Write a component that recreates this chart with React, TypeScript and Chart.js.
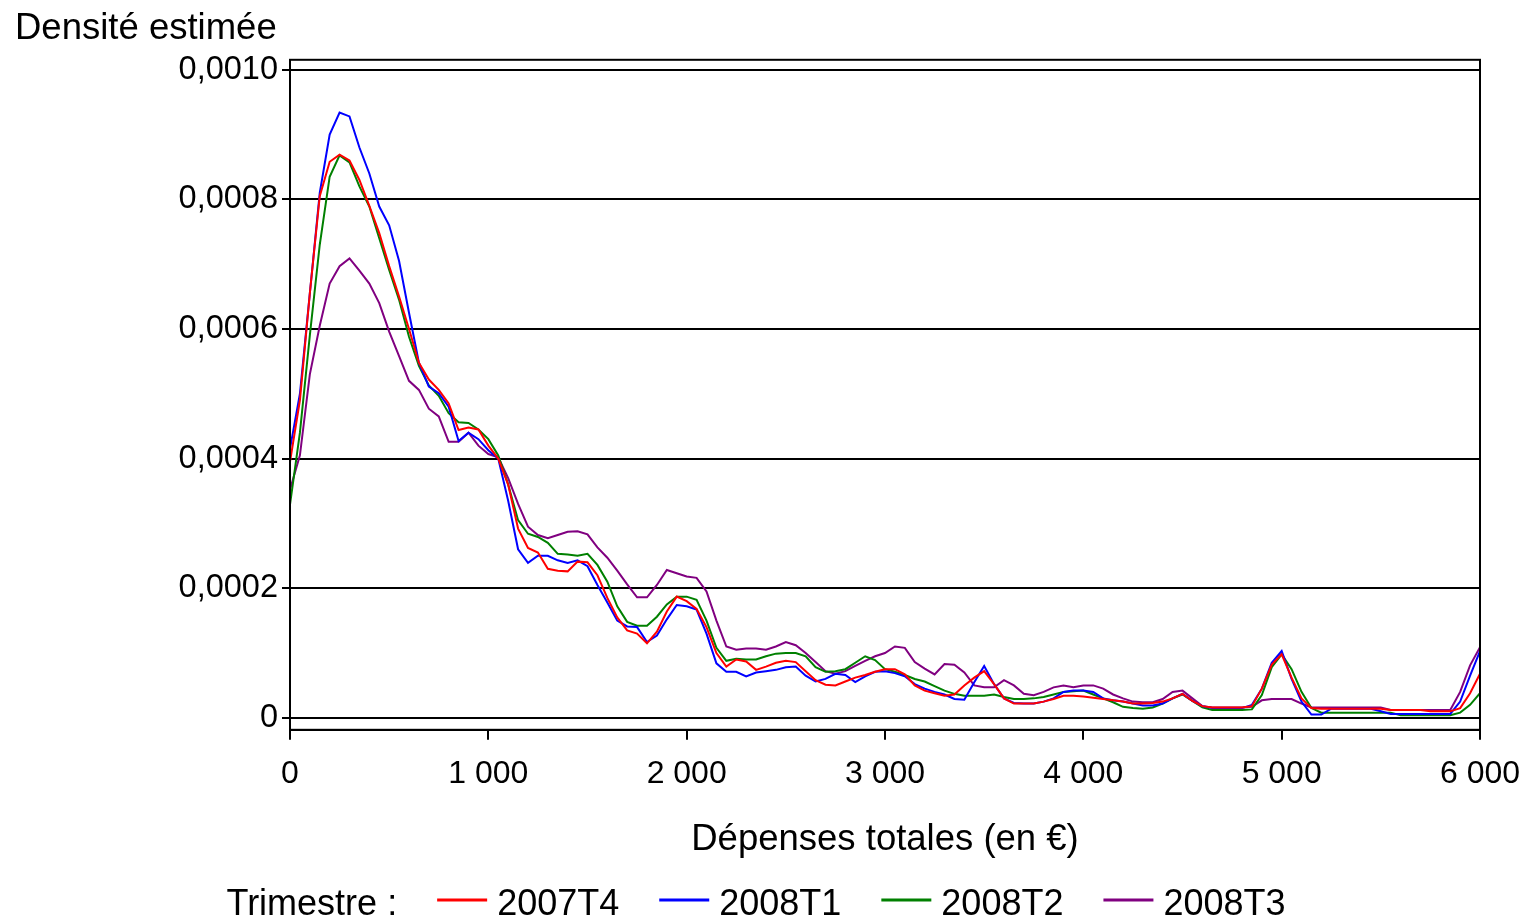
import React, { useEffect, useRef } from "react";
import { Chart, registerables } from "chart.js";

Chart.register(...registerables);

// Dépenses totales (en €), one reading every 50 €
const xValues = [
  0, 50, 100, 150, 200, 250, 300, 350, 400, 450,
  500, 550, 600, 650, 700, 750, 800, 850, 900, 950,
  1000, 1050, 1100, 1150, 1200, 1250, 1300, 1350, 1400, 1450,
  1500, 1550, 1600, 1650, 1700, 1750, 1800, 1850, 1900, 1950,
  2000, 2050, 2100, 2150, 2200, 2250, 2300, 2350, 2400, 2450,
  2500, 2550, 2600, 2650, 2700, 2750, 2800, 2850, 2900, 2950,
  3000, 3050, 3100, 3150, 3200, 3250, 3300, 3350, 3400, 3450,
  3500, 3550, 3600, 3650, 3700, 3750, 3800, 3850, 3900, 3950,
  4000, 4050, 4100, 4150, 4200, 4250, 4300, 4350, 4400, 4450,
  4500, 4550, 4600, 4650, 4700, 4750, 4800, 4850, 4900, 4950,
  5000, 5050, 5100, 5150, 5200, 5250, 5300, 5350, 5400, 5450,
  5500, 5550, 5600, 5650, 5700, 5750, 5800, 5850, 5900, 5950,
  6000,
];

// Estimated densities, in units of 0,0001
const density2007T4 = [
  3.95, 4.9, 6.55, 8.05, 8.58, 8.69, 8.6, 8.3, 7.9, 7.48,
  6.97, 6.5, 6.0, 5.48, 5.22, 5.06, 4.85, 4.44, 4.48, 4.45,
  4.2, 4.0, 3.6, 2.92, 2.62, 2.55, 2.3, 2.27, 2.26, 2.41,
  2.4, 2.2, 1.85, 1.55, 1.35, 1.3, 1.15, 1.33, 1.64, 1.87,
  1.8, 1.68, 1.4, 1.0, 0.79, 0.9, 0.87, 0.74, 0.79, 0.85,
  0.88, 0.86, 0.72, 0.58, 0.51, 0.5, 0.56, 0.62, 0.66, 0.71,
  0.75, 0.75, 0.67, 0.5, 0.42, 0.38, 0.34, 0.36, 0.5, 0.62,
  0.72, 0.52, 0.3, 0.22, 0.22, 0.22, 0.25, 0.29, 0.34, 0.34,
  0.33, 0.31, 0.29, 0.27, 0.25, 0.22, 0.22, 0.23, 0.25, 0.3,
  0.37, 0.26, 0.18, 0.16, 0.16, 0.16, 0.16, 0.18, 0.45, 0.82,
  0.98, 0.62, 0.3, 0.15, 0.14, 0.14, 0.14, 0.14, 0.14, 0.14,
  0.14, 0.12, 0.12, 0.12, 0.12, 0.1, 0.1, 0.1, 0.15, 0.38,
  0.68,
];

const density2008T1 = [
  4.15, 5.0, 6.55, 8.1, 9.0, 9.34, 9.28, 8.8, 8.4, 7.89,
  7.6, 7.05, 6.25, 5.48, 5.11, 5.01, 4.8, 4.27, 4.4, 4.3,
  4.13, 4.0, 3.35, 2.6, 2.39, 2.5, 2.5, 2.43, 2.39, 2.43,
  2.34, 2.05, 1.78, 1.5, 1.41, 1.4, 1.17, 1.27, 1.52, 1.74,
  1.72, 1.67, 1.3, 0.84, 0.71, 0.71, 0.64, 0.7, 0.72, 0.74,
  0.78, 0.79, 0.65, 0.56, 0.6, 0.68, 0.66, 0.55, 0.64, 0.71,
  0.72, 0.69, 0.64, 0.52, 0.45, 0.4, 0.36, 0.29, 0.28, 0.55,
  0.8, 0.52, 0.3, 0.23, 0.22, 0.22, 0.25, 0.3, 0.4, 0.42,
  0.42, 0.4, 0.3, 0.27, 0.25, 0.22, 0.19, 0.19, 0.22, 0.3,
  0.37, 0.26, 0.18, 0.15, 0.15, 0.15, 0.15, 0.2, 0.45, 0.85,
  1.03, 0.6, 0.25, 0.05, 0.05, 0.14, 0.14, 0.14, 0.14, 0.14,
  0.1, 0.06, 0.06, 0.06, 0.06, 0.06, 0.06, 0.06, 0.25, 0.65,
  1.03,
];

const density2008T2 = [
  3.29, 4.4, 5.9, 7.3, 8.35, 8.68, 8.57, 8.2, 7.89, 7.4,
  6.91, 6.45, 5.88, 5.43, 5.13, 4.97, 4.7, 4.56, 4.55, 4.45,
  4.3, 4.05, 3.6, 3.05, 2.84, 2.79, 2.7, 2.53, 2.52, 2.5,
  2.53, 2.36, 2.1, 1.72, 1.48, 1.42, 1.42, 1.56, 1.75, 1.87,
  1.87, 1.82, 1.5, 1.08, 0.88, 0.91, 0.9, 0.9, 0.95, 0.99,
  1.0, 1.0, 0.95, 0.78, 0.71, 0.72, 0.75, 0.85, 0.95, 0.89,
  0.75, 0.71, 0.66, 0.6, 0.56, 0.49, 0.42, 0.37, 0.34, 0.34,
  0.34, 0.36, 0.32, 0.29, 0.29, 0.3, 0.32, 0.36, 0.4, 0.41,
  0.42, 0.36, 0.3, 0.24, 0.17, 0.15, 0.14, 0.16, 0.22, 0.3,
  0.36, 0.26, 0.16, 0.12, 0.12, 0.12, 0.12, 0.13, 0.35, 0.78,
  0.98, 0.75, 0.4, 0.15, 0.08, 0.08, 0.08, 0.08, 0.08, 0.08,
  0.08, 0.08, 0.04, 0.04, 0.04, 0.04, 0.04, 0.04, 0.08, 0.2,
  0.38,
];

const density2008T3 = [
  3.52, 4.05, 5.3, 6.05, 6.7, 6.97, 7.09, 6.9, 6.7, 6.4,
  5.96, 5.58, 5.2, 5.06, 4.77, 4.65, 4.26, 4.26, 4.4, 4.2,
  4.07, 4.02, 3.7, 3.3, 2.95, 2.82, 2.77, 2.82, 2.87, 2.88,
  2.83, 2.63, 2.47, 2.27, 2.06, 1.86, 1.86, 2.05, 2.28, 2.23,
  2.18, 2.16, 1.95, 1.5, 1.1, 1.05, 1.07, 1.07, 1.05, 1.1,
  1.17, 1.12, 1.0, 0.86, 0.72, 0.68, 0.72, 0.8, 0.88, 0.95,
  1.0, 1.1, 1.08, 0.86, 0.76, 0.67, 0.83, 0.82, 0.7, 0.5,
  0.47, 0.47, 0.58, 0.5, 0.37, 0.35, 0.4, 0.47, 0.5, 0.47,
  0.5, 0.5, 0.45, 0.36, 0.3, 0.25, 0.24, 0.24, 0.29, 0.4,
  0.42, 0.3, 0.18, 0.16, 0.16, 0.16, 0.16, 0.17, 0.27, 0.29,
  0.29, 0.29, 0.22, 0.16, 0.16, 0.16, 0.16, 0.16, 0.16, 0.16,
  0.16, 0.12, 0.12, 0.12, 0.12, 0.12, 0.12, 0.12, 0.4, 0.81,
  1.09,
];

const DENSITY_UNIT = 0.0001;

const seriesLabels = ["2007T4", "2008T1", "2008T2", "2008T3"];
const seriesValues = [density2007T4, density2008T1, density2008T2, density2008T3];
const seriesColors = ["#ff0000", "#0000ff", "#008000", "#800080"];

const xTickValues = [0, 1000, 2000, 3000, 4000, 5000, 6000];
const xTickLabels = ["0", "1 000", "2 000", "3 000", "4 000", "5 000", "6 000"];
const yTickValues = [0, 0.0002, 0.0004, 0.0006, 0.0008, 0.001];
const yTickLabels = ["0", "0,0002", "0,0004", "0,0006", "0,0008", "0,0010"];

const yAxisTitle = "Densité estimée";
const xAxisTitle = "Dépenses totales (en €)";
const legendTitle = "Trimestre :";

const FONT = '"Liberation Sans", Arial, sans-serif';

const framePlugin = {
  id: "frame",
  afterDatasetsDraw(chart: any) {
    const { ctx, chartArea } = chart;
    ctx.save();
    ctx.strokeStyle = "#000";
    ctx.lineWidth = 2;
    ctx.strokeRect(chartArea.left, chartArea.top, chartArea.right - chartArea.left, chartArea.bottom - chartArea.top);
    ctx.restore();
  },
};

const rowLegendPlugin = {
  id: "rowLegend",
  afterDraw(chart: any) {
    const ctx = chart.ctx;
    ctx.save();
    ctx.font = `36px ${FONT}`;
    ctx.fillStyle = "#000";
    ctx.textBaseline = "middle";
    ctx.textAlign = "left";
    const gapBefore = 40;
    const lineW = 50;
    const gapText = 10;
    const titleW = ctx.measureText(legendTitle).width;
    const items = chart.data.datasets.map((d: any) => ({
      label: d.label,
      color: d.borderColor,
      w: ctx.measureText(d.label).width,
    }));
    const total = titleW + items.reduce((a: number, it: any) => a + gapBefore + lineW + gapText + it.w, 0);
    let x = (chart.width - total) / 2 - 5;
    const yText = chart.height - 15;
    const yLine = chart.height - 20;
    ctx.fillText(legendTitle, x, yText);
    x += titleW;
    for (const it of items) {
      x += gapBefore;
      ctx.strokeStyle = it.color;
      ctx.lineWidth = 3;
      ctx.beginPath();
      ctx.moveTo(x, yLine);
      ctx.lineTo(x + lineW, yLine);
      ctx.stroke();
      x += lineW + gapText;
      ctx.fillText(it.label, x, yText);
      x += it.w;
    }
    ctx.restore();
  },
};

export default function App() {
  const canvasRef = useRef<HTMLCanvasElement | null>(null);

  useEffect(() => {
    document.body.style.margin = "0";
    const canvas = canvasRef.current;
    if (!canvas) return;

    const datasets = seriesLabels.map((label, s) => ({
      label,
      data: xValues.map((x, i) => ({ x, y: seriesValues[s][i] * DENSITY_UNIT })),
      borderColor: seriesColors[s],
      backgroundColor: seriesColors[s],
      borderWidth: 2,
      pointRadius: 0,
      tension: 0,
      fill: false,
    }));

    const chart = new Chart(canvas, {
      type: "line",
      data: { datasets },
      plugins: [framePlugin, rowLegendPlugin],
      options: {
        responsive: false,
        animation: false,
        devicePixelRatio: 1,
        layout: { padding: { left: 15, right: 42, top: 0, bottom: 58 } },
        plugins: {
          legend: { display: false },
          tooltip: { enabled: false },
          title: {
            display: true,
            text: yAxisTitle,
            align: "start",
            color: "#000",
            font: { family: FONT, size: 36.5, weight: "normal", lineHeight: 1.2 },
            padding: { top: 7, bottom: 9 },
          },
        },
        scales: {
          x: {
            type: "linear",
            min: 0,
            max: 6000,
            afterBuildTicks: (scale: any) => {
              scale.ticks = xTickValues.map((v) => ({ value: v }));
            },
            afterFit: (scale: any) => {
              scale.paddingLeft = 0;
              scale.paddingRight = 0;
            },
            ticks: {
              autoSkip: false,
              maxRotation: 0,
              padding: 15,
              color: "#000",
              font: { family: FONT, size: 32 },
              callback: (_v: any, i: number) => xTickLabels[i],
            },
            grid: {
              display: true,
              drawOnChartArea: false,
              drawTicks: true,
              tickLength: 10,
              color: "#000",
              lineWidth: 2,
            },
            border: { display: true, color: "#000", width: 2 },
            title: {
              display: true,
              text: xAxisTitle,
              color: "#000",
              font: { family: FONT, size: 36.5, lineHeight: 1.2 },
              padding: { top: 10, bottom: 0 },
            },
          },
          y: {
            type: "linear",
            min: -0.0000185,
            max: 0.0010154,
            afterBuildTicks: (scale: any) => {
              scale.ticks = yTickValues.map((v) => ({ value: v }));
            },
            afterFit: (scale: any) => {
              scale.width = 275;
            },
            ticks: {
              autoSkip: false,
              padding: 4,
              color: "#000",
              font: { family: FONT, size: 32.5 },
              callback: (_v: any, i: number) => yTickLabels[i],
            },
            grid: {
              display: true,
              drawOnChartArea: true,
              drawTicks: true,
              tickLength: 8,
              color: "#000",
              lineWidth: 2,
            },
            border: { display: true, color: "#000", width: 2 },
          },
        },
      },
    });

    return () => {
      chart.destroy();
    };
  }, []);

  return (
    <div style={{ width: 1522, height: 920, overflow: "hidden", background: "#fff" }}>
      <canvas ref={canvasRef} width={1522} height={920} style={{ display: "block" }} />
    </div>
  );
}
